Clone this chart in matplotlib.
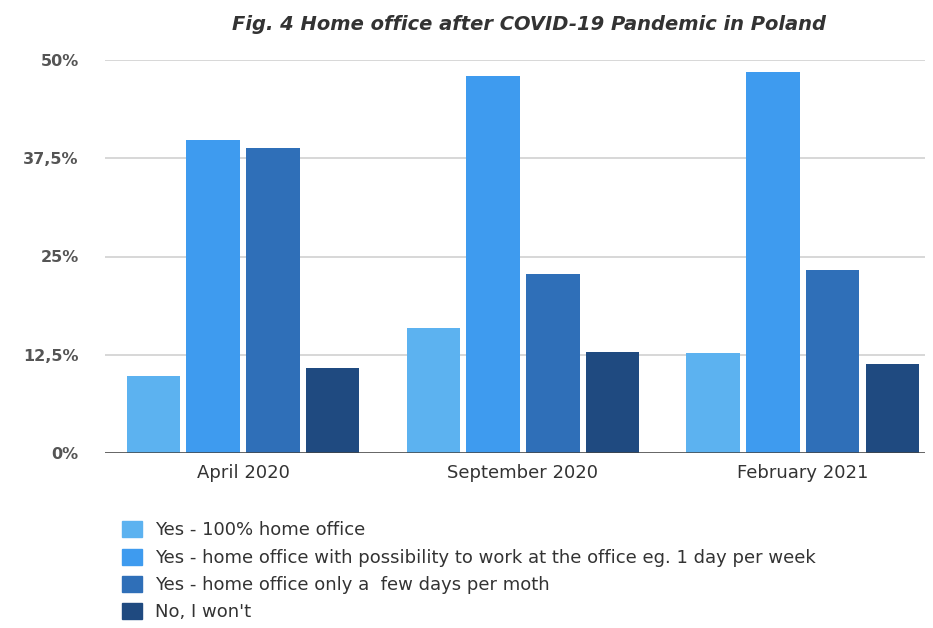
import numpy as np
import matplotlib.pyplot as plt
from matplotlib.patches import Patch

# データ
months = ["April 2020", "September 2020", "February 2021"]
series = ["Yes - 100% home office",
          "Yes - home office with possibility to work at the office eg. 1 day per week",
          "Yes - home office only a  few days per moth",
          "No, I won't"]
full_home = [9.8, 15.9, 12.7]
home_1day = [39.8, 48.0, 48.5]
few_days = [38.8, 22.8, 23.3]
no_home = [10.8, 12.9, 11.3]
yticks = [0, 12.5, 25, 37.5, 50]
ytick_labels = ["0%", "12,5%", "25%", "37,5%", "50%"]

colors = ["#5cb2f0", "#3e9bef", "#2f6fb8", "#1f4a80"]

fig = plt.figure(figsize=(9.33, 6.28), dpi=100)
ax = fig.add_axes([105/933, 175/628, 820/933, 393/628])

x = np.arange(len(months))
pitch = 0.214
width = 0.19
values = [full_home, home_1day, few_days, no_home]
for i, vals in enumerate(values):
    ax.bar(x + (i - 1.5)*pitch, vals, width, color=colors[i], zorder=3)

ax.set_xlim(-0.493, 2.436)
ax.set_ylim(0, 50)
ax.set_yticks(yticks)
ax.set_yticklabels(ytick_labels, fontsize=11.5, fontweight="bold", color="#555555")
ax.set_xticks(x)
ax.set_xticklabels(months, fontsize=13, color="#333333")
ax.tick_params(axis="y", length=0, pad=19)
ax.tick_params(axis="x", length=0, pad=8)
for s in ax.spines.values():
    s.set_visible(False)
ax.grid(axis="y", color="#d4d4d4", linewidth=1.3, zorder=0)
ax.axhline(0, color="#444444", linewidth=1.8, zorder=4)

fig.text(529/933, 1 - 25/628, "Fig. 4 Home office after COVID-19 Pandemic in Poland",
         ha="center", va="center", fontsize=14, fontweight="bold",
         style="italic", color="#333333")

handles = [Patch(color=c) for c in colors]
fig.legend(handles, series, loc="upper left", bbox_to_anchor=(115/933, 1 - 514/628),
           frameon=False, fontsize=13, labelspacing=0.5, handlelength=1.1,
           handleheight=1.0, handletextpad=0.7, labelcolor="#333333",
           borderaxespad=0)

fig.savefig("out.png", dpi=100)
